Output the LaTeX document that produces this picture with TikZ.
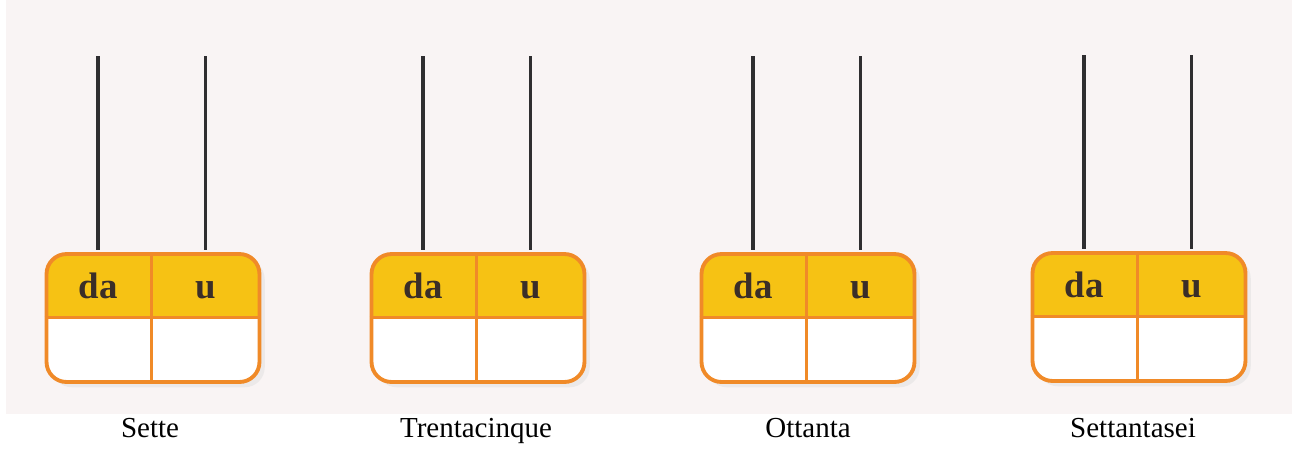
\documentclass[tikz,border=0pt]{standalone}
\usepackage{fontspec}
\setmainfont{Liberation Serif}
\usetikzlibrary{positioning,shadows}
\definecolor{paper}{HTML}{F9F4F4}
\definecolor{headyellow}{HTML}{F6C214}
\definecolor{boxorange}{HTML}{F08A28}
\definecolor{roddark}{HTML}{2F2E30}
\definecolor{inkdark}{HTML}{3A2E28}

\begin{document}
\begin{tikzpicture}[x=0.02cm, y=-0.02cm,
	abacus/.style={rectangle, draw=boxorange, line width=2.2pt, fill=white,
		rounded corners=0.4cm, minimum width=4.26cm, minimum height=2.56cm,
		drop shadow={shadow xshift=3pt, shadow yshift=-3pt, fill=black!12},
		path picture={\fill[headyellow, sharp corners] (path picture bounding box.north west)
			rectangle ([yshift=-1.3cm]path picture bounding box.north east);}},
	headcell/.style={rectangle, minimum width=2.13cm, minimum height=1.3cm, inner sep=0pt,
		text height=16pt, text depth=0pt,
		text=inkdark, font=\bfseries\fontsize{21}{24}\selectfont},
	lowcell/.style={rectangle, minimum width=2.13cm, minimum height=1.26cm, inner sep=0pt},
	divider/.style={draw=boxorange, line width=1.8pt},
	rod/.style={draw=roddark, line width=2.1pt, shorten >=1.1pt},
	numname/.style={anchor=base, font=\fontsize{16.5}{20}\selectfont}]
	\useasboundingbox (0,0) rectangle (1292,450);
	\fill[paper] (6,0) rectangle (1292,414);

	% sette
	\node[abacus] (B1) at (153,318) {};
	\node[headcell, below right=0pt of B1.north west] (D1) {da};
	\node[headcell, right=0pt of D1] (U1) {u};
	\node[lowcell, below=0pt of D1] (C1) {};
	\node[lowcell, below=0pt of U1] (E1) {};
	\draw[divider] (D1.south west) -- (U1.south east);
	\draw[divider] (D1.north east) -- (C1.south east);
	\coordinate (T1) at ([yshift=3.92cm]D1.north);
	\coordinate (V1) at ([yshift=3.92cm]U1.north);
	\draw[rod] (T1) -- (D1.north);
	\draw[rod] (V1) -- (U1.north);
	\node[numname] (L1) at (150,437) {Sette};

	% trentacinque
	\node[abacus] (B2) at (478,318) {};
	\node[headcell, below right=0pt of B2.north west] (D2) {da};
	\node[headcell, right=0pt of D2] (U2) {u};
	\node[lowcell, below=0pt of D2] (C2) {};
	\node[lowcell, below=0pt of U2] (E2) {};
	\draw[divider] (D2.south west) -- (U2.south east);
	\draw[divider] (D2.north east) -- (C2.south east);
	\coordinate (T2) at ([yshift=3.92cm]D2.north);
	\coordinate (V2) at ([yshift=3.92cm]U2.north);
	\draw[rod] (T2) -- (D2.north);
	\draw[rod] (V2) -- (U2.north);
	\node[numname] (L2) at (476,437) {Trentacinque};

	% ottanta
	\node[abacus] (B3) at (808,318) {};
	\node[headcell, below right=0pt of B3.north west] (D3) {da};
	\node[headcell, right=0pt of D3] (U3) {u};
	\node[lowcell, below=0pt of D3] (C3) {};
	\node[lowcell, below=0pt of U3] (E3) {};
	\draw[divider] (D3.south west) -- (U3.south east);
	\draw[divider] (D3.north east) -- (C3.south east);
	\coordinate (T3) at ([yshift=3.92cm]D3.north);
	\coordinate (V3) at ([yshift=3.92cm]U3.north);
	\draw[rod] (T3) -- (D3.north);
	\draw[rod] (V3) -- (U3.north);
	\node[numname] (L3) at (808,437) {Ottanta};

	% settantasei
	\node[abacus] (B4) at (1139,317) {};
	\node[headcell, below right=0pt of B4.north west] (D4) {da};
	\node[headcell, right=0pt of D4] (U4) {u};
	\node[lowcell, below=0pt of D4] (C4) {};
	\node[lowcell, below=0pt of U4] (E4) {};
	\draw[divider] (D4.south west) -- (U4.south east);
	\draw[divider] (D4.north east) -- (C4.south east);
	\coordinate (T4) at ([yshift=3.92cm]D4.north);
	\coordinate (V4) at ([yshift=3.92cm]U4.north);
	\draw[rod] (T4) -- (D4.north);
	\draw[rod] (V4) -- (U4.north);
	\node[numname] (L4) at (1133,437) {Settantasei};
\end{tikzpicture}
\end{document}
